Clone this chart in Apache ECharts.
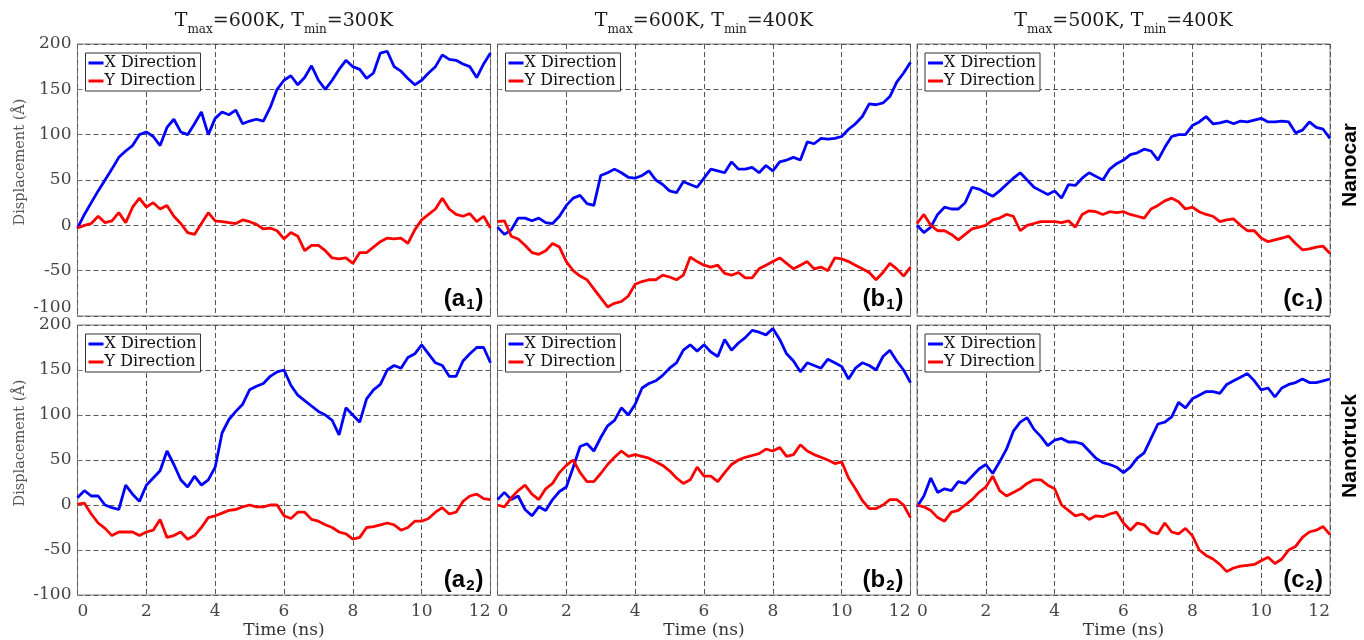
<!DOCTYPE html>
<html>
<head>
<meta charset="utf-8">
<script src="https://cdn.jsdelivr.net/npm/echarts@6/dist/echarts.min.js"></script>
<style>
  html, body { margin: 0; padding: 0; background: #fff; }
  #main { width: 1364px; height: 640px; }
</style>
</head>
<body>
<div id="main"></div>
<script>
// time axis (ns), one sample every 0.2 ns
var time = [0,0.2,0.4,0.6,0.8,1,1.2,1.4,1.6,1.8,2,2.2,2.4,2.6,2.8,3,3.2,3.4,3.6,3.8,
  4,4.2,4.4,4.6,4.8,5,5.2,5.4,5.6,5.8,6,6.2,6.4,6.6,6.8,7,7.2,7.4,7.6,7.8,
  8,8.2,8.4,8.6,8.8,9,9.2,9.4,9.6,9.8,10,10.2,10.4,10.6,10.8,11,11.2,11.4,11.6,11.8,12];

// Nanocar, Tmax=600K Tmin=300K
var a1X = [-3,12,25,38,50,62,75,82,88,100, 103,98,88,108,117,103,100,112,125,100,
  118,125,122,127,112,115,117,115,130,150, 160,165,155,163,176,160,150,160,172,182,
  175,172,162,168,190,192,175,170,162,155, 160,168,175,188,183,182,178,175,163,178, 190];
var a1Y = [-3,0,2,10,3,5,14,3,20,30, 20,25,18,22,10,2,-8,-10,2,14,
  5,4,3,2,6,4,1,-4,-3,-6, -15,-8,-12,-28,-22,-22,-28,-36,-37,-36,
  -42,-30,-30,-24,-18,-14,-15,-14,-20,-5, 6,12,18,30,18,12,10,13,4,10, -3];
// Nanocar, Tmax=600K Tmin=400K
var b1X = [-2,-10,-5,8,8,5,8,3,2,10, 22,30,33,24,22,55,58,62,58,53,
  52,55,60,50,45,38,36,48,45,42, 52,62,60,58,70,62,62,64,58,66,
  60,70,72,75,72,92,90,96,95,96, 98,106,112,120,134,133,135,142,158,168, 180];
var b1Y = [4,5,-12,-15,-22,-30,-32,-28,-20,-24, -40,-50,-56,-60,-70,-80,-90,-86,-84,-78,
  -65,-62,-60,-60,-55,-57,-60,-55,-35,-40, -44,-46,-44,-53,-55,-52,-58,-58,-48,-44,
  -40,-36,-42,-48,-44,-40,-48,-46,-50,-36, -37,-40,-44,-48,-52,-60,-52,-42,-48,-56, -46];
// Nanocar, Tmax=500K Tmin=400K
var c1X = [0,-8,-2,12,20,18,18,25,42,40, 36,32,38,45,52,58,50,42,38,34,
  38,30,45,44,52,58,54,50,62,68, 72,78,80,84,82,72,86,98,100,100,
  110,114,120,112,113,115,112,115,114,116, 118,114,114,115,114,102,105,114,108,106, 96];
var c1Y = [2,12,0,-6,-6,-10,-16,-10,-4,-2, 0,6,8,12,10,-6,0,2,4,4,
  4,3,5,-2,12,16,15,12,15,14, 15,12,10,8,18,22,27,30,26,18,
  20,15,12,10,4,6,7,0,-6,-6, -14,-18,-16,-14,-12,-20,-27,-26,-24,-23, -31];
// Nanotruck, Tmax=600K Tmin=300K
var a2X = [8,16,10,10,0,-3,-5,22,12,4, 22,30,38,60,45,28,20,32,22,28,
  42,80,95,104,112,128,132,135,143,148, 150,133,122,116,110,104,100,94,78,108,
  100,92,118,128,134,150,155,152,164,168, 178,168,158,155,143,143,160,168,175,175, 158];
var a2Y = [1,2,-10,-20,-26,-34,-30,-30,-30,-34, -30,-28,-16,-36,-34,-30,-38,-34,-25,-14,
  -12,-9,-6,-5,-2,0,-2,-2,0,0, -12,-15,-8,-8,-16,-18,-22,-25,-30,-32,
  -38,-36,-25,-24,-22,-20,-22,-28,-25,-18, -18,-15,-8,-3,-10,-8,4,10,12,7, 6];
// Nanotruck, Tmax=600K Tmin=400K
var b2X = [6,14,6,10,-5,-12,-2,-6,6,15, 20,42,65,68,60,75,88,94,108,100,
  112,130,135,138,144,152,158,172,178,171, 178,170,165,184,172,180,186,194,192,189,
  196,184,168,160,148,158,155,152,162,158, 154,140,152,158,155,150,165,172,160,150, 136];
var b2Y = [0,-2,8,16,22,12,6,18,24,36, 44,50,36,26,26,35,45,53,60,54,
  56,54,52,48,44,38,30,24,28,42, 32,32,26,36,45,50,53,55,57,62,
  60,64,54,56,67,60,56,53,50,46, 48,30,18,5,-4,-4,0,6,6,0, -14];
// Nanotruck, Tmax=500K Tmin=400K
var c2X = [-2,10,30,14,18,16,26,24,32,40, 45,35,48,62,82,92,97,84,76,66,
  72,74,70,70,68,60,52,47,45,42, 36,42,52,58,74,90,92,98,114,108,
  118,122,126,126,124,134,138,142,146,138, 128,130,120,130,134,136,140,136,136,138, 140];
var c2Y = [0,-2,-6,-14,-18,-8,-6,0,6,14, 20,32,16,10,14,18,24,28,28,22,
  18,0,-6,-12,-10,-16,-12,-13,-10,-8, -20,-28,-20,-22,-30,-32,-20,-30,-32,-26,
  -34,-50,-56,-60,-66,-74,-70,-68,-67,-66, -62,-58,-65,-60,-50,-46,-36,-30,-28,-24, -33];

var xTicks = [0, 2, 4, 6, 8, 10, 12];
var yTicks = [-100, -50, 0, 50, 100, 150, 200];
var colTitles = [['600K', '300K'], ['600K', '400K'], ['500K', '400K']];
var rowNames = ['Nanocar', 'Nanotruck'];
var panelLetters = ['a', 'b', 'c'];
var panels = [[a1X, a1Y], [b1X, b1Y], [c1X, c1Y], [a2X, a2Y], [b2X, b2Y], [c2X, c2Y]];

var colLeft = [77.5, 497.5, 917];
var rowTop = [44, 325];
var W = 413, H = 272;
var serif = 'DejaVu Serif';

function pairs(vals) {
  return time.map(function (t, i) { return [t, vals[i]]; });
}

var grids = [], xAxes = [], yAxes = [], series = [], legends = [], graphics = [];

for (var p = 0; p < 6; p++) {
  var row = Math.floor(p / 3), col = p % 3;
  grids.push({
    left: colLeft[col], top: rowTop[row], width: W, height: H,
    show: true, borderColor: '#7a7a7a', borderWidth: 1, backgroundColor: '#fff'
  });
  xAxes.push({
    type: 'value', gridIndex: p,
    min: xTicks[0], max: xTicks[xTicks.length - 1], interval: 2,
    axisLine: { show: false },
    axisTick: { show: true, inside: true, length: 4, lineStyle: { color: '#7a7a7a' } },
    axisLabel: {
      show: row === 1, margin: 8, color: '#444',
      fontFamily: serif, fontSize: 17,
      alignMinLabel: 'left', alignMaxLabel: 'right'
    },
    splitLine: { show: true, lineStyle: { color: '#555', width: 1, type: [5, 3] } },
    name: row === 1 ? 'Time (ns)' : '',
    nameLocation: 'middle', nameGap: 27,
    nameTextStyle: { fontFamily: serif, fontSize: 17, color: '#333' }
  });
  yAxes.push({
    type: 'value', gridIndex: p,
    min: yTicks[0], max: yTicks[yTicks.length - 1], interval: 50,
    axisLine: { show: false },
    axisTick: { show: true, inside: true, length: 4, lineStyle: { color: '#7a7a7a' } },
    axisLabel: {
      show: col === 0, margin: 6, color: '#444', fontFamily: serif, fontSize: 17,
      verticalAlignMinLabel: row === 0 ? 'bottom' : 'middle'
    },
    splitLine: { show: true, lineStyle: { color: '#555', width: 1, type: [5, 3] } }
  });
  series.push({
    name: 'X Direction', type: 'line', xAxisIndex: p, yAxisIndex: p,
    data: pairs(panels[p][0]), symbol: 'none', smooth: false,
    lineStyle: { color: '#0000ff', width: 2.8 }, itemStyle: { color: '#0000ff' }
  });
  series.push({
    name: 'Y Direction', type: 'line', xAxisIndex: p, yAxisIndex: p,
    data: pairs(panels[p][1]), symbol: 'none', smooth: false,
    lineStyle: { color: '#ff0000', width: 2.8 }, itemStyle: { color: '#ff0000' }
  });
  legends.push({
    left: colLeft[col] + 8, top: rowTop[row] + 9,
    orient: 'vertical', itemGap: 2,
    data: ['X Direction', 'Y Direction'],
    icon: 'rect', itemWidth: 15, itemHeight: 3,
    backgroundColor: '#fff', borderColor: '#333', borderWidth: 1,
    padding: [2, 4, 2, 3],
    textStyle: { fontFamily: serif, fontSize: 16, color: '#111', padding: [0, 0, 0, -4] },
    selectedMode: false
  });
  // panel tag, e.g. (a1)
  graphics.push({
    type: 'text', right: 1364 - (colLeft[col] + W - 7), top: rowTop[row] + 243, z: 50,
    style: {
      text: '{p|(' + panelLetters[col] + '}{s|' + (row + 1) + '}{p|)}',
      rich: {
        p: { fontFamily: 'Liberation Sans', fontWeight: 'bold', fontSize: 24, lineHeight: 26, verticalAlign: 'top', fill: '#000' },
        s: { fontFamily: 'Liberation Sans', fontWeight: 'bold', fontSize: 15, lineHeight: 16, padding: [10, 1, 0, 1], verticalAlign: 'top', fill: '#000' }
      }
    }
  });
}

// column headers
for (var c = 0; c < 3; c++) {
  graphics.push({
    type: 'text', x: colLeft[c] + W / 2, y: 12,
    style: {
      text: '{t|T}{s|max}{t|=' + colTitles[c][0] + ', T}{s|min}{t|=' + colTitles[c][1] + '}',
      align: 'center',
      rich: {
        t: { fontFamily: serif, fontSize: 19, lineHeight: 24, verticalAlign: 'top', fill: '#1a1a1a' },
        s: { fontFamily: serif, fontSize: 12, lineHeight: 14, padding: [12, 0, 0, 0], verticalAlign: 'top', fill: '#1a1a1a' }
      }
    }
  });
}

// row labels and y-axis titles
for (var r = 0; r < 2; r++) {
  graphics.push({
    type: 'text', x: 1350, y: rowTop[r] + 121, rotation: Math.PI / 2,
    style: { text: rowNames[r], font: 'bold 21px "Liberation Sans"', fill: '#000', align: 'center', verticalAlign: 'middle' }
  });
  graphics.push({
    type: 'text', x: 20, y: rowTop[r] + 118, rotation: Math.PI / 2,
    style: { text: 'Displacement (Å)', font: '14.5px "DejaVu Serif"', fill: '#555', align: 'center', verticalAlign: 'middle' }
  });
}

var myChart = echarts.init(document.getElementById('main'));
myChart.setOption({
  animation: false,
  backgroundColor: '#fff',
  grid: grids,
  xAxis: xAxes,
  yAxis: yAxes,
  legend: legends,
  series: series,
  graphic: graphics
});
</script>
</body>
</html>
